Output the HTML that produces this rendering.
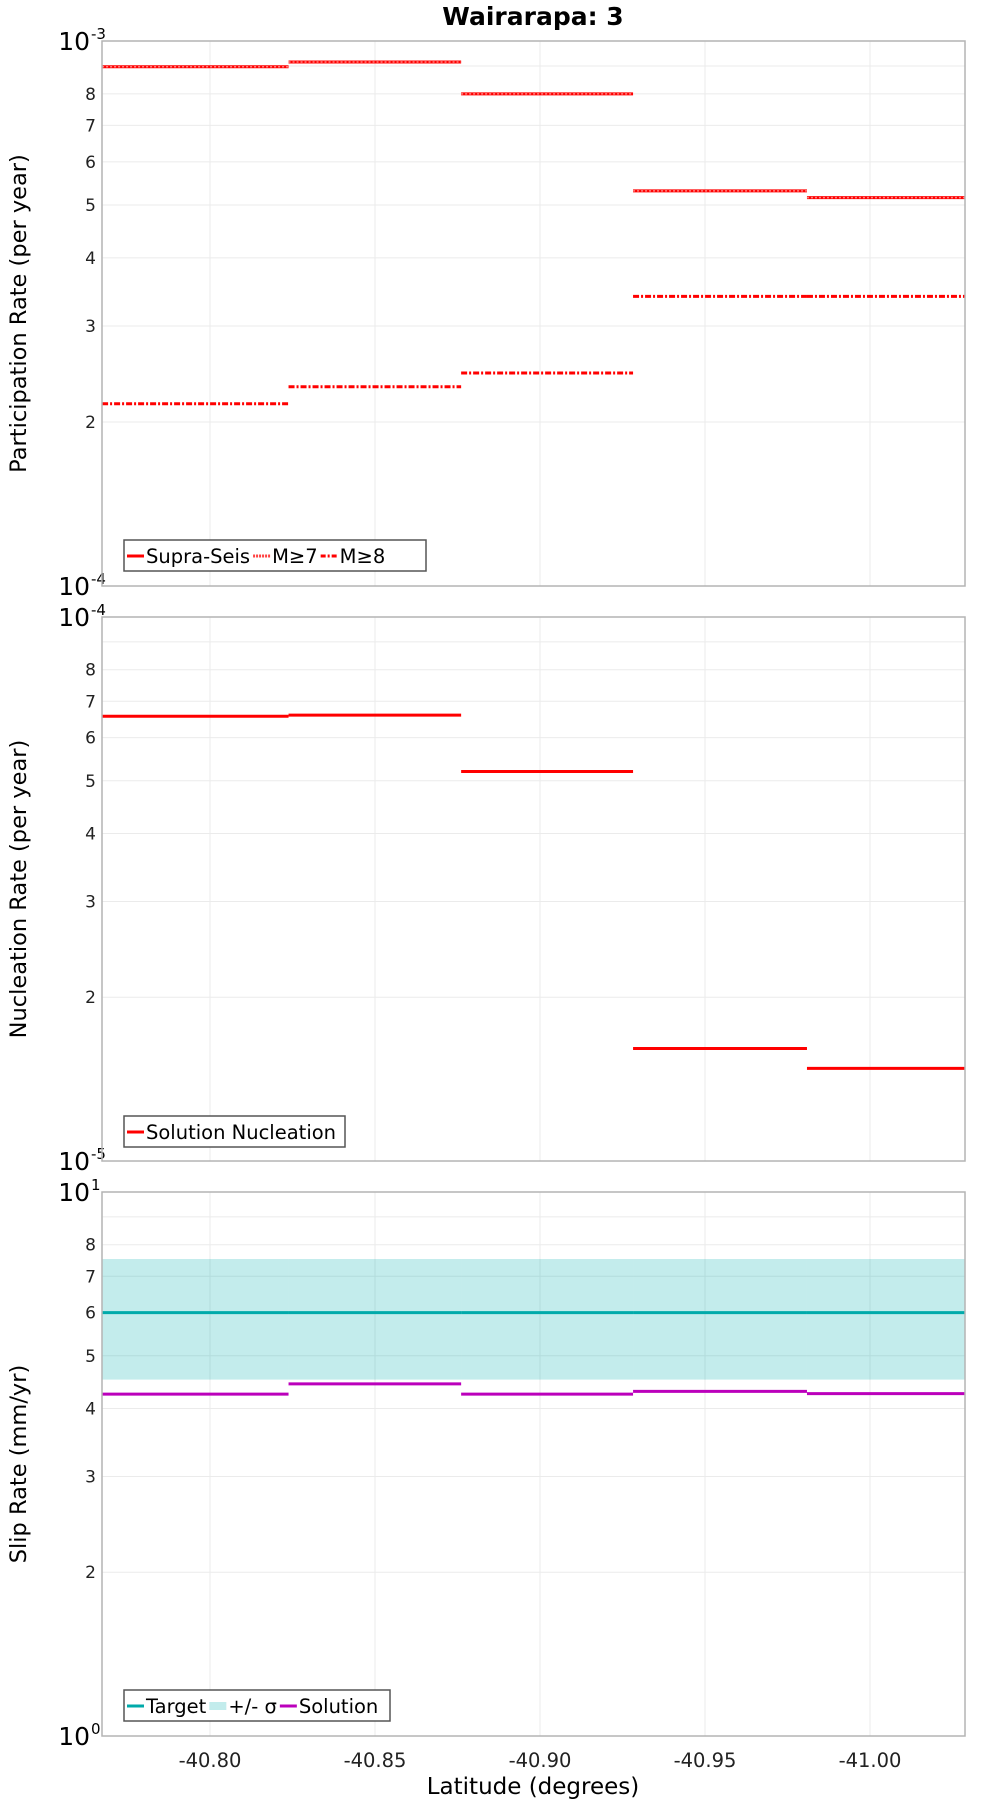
<!DOCTYPE html>
<html><head><meta charset="utf-8"><style>
html,body{margin:0;padding:0;background:#fff;}
svg{display:block;font-family:"DejaVu Sans","Liberation Sans",sans-serif;}
</style></head><body>
<svg id="chart" width="1000" height="1800" xmlns="http://www.w3.org/2000/svg">
<text x="533" y="25" text-anchor="middle" font-size="25" font-weight="bold">Wairarapa: 3</text>
</svg>
<script>
const segEdges = [-40.7673, -40.8238, -40.8761, -40.9282, -40.9809, -41.0288];
const xTicks = [-40.80, -40.85, -40.90, -40.95, -41.00];
const xTickLabels = ["-40.80", "-40.85", "-40.90", "-40.95", "-41.00"];
const supraSeis = [8.97e-4, 9.15e-4, 8.0e-4, 5.31e-4, 5.16e-4];
const m7 = [8.97e-4, 9.15e-4, 8.0e-4, 5.31e-4, 5.16e-4];
const m8 = [2.16e-4, 2.32e-4, 2.46e-4, 3.40e-4, 3.40e-4];
const nucleation = [6.57e-5, 6.6e-5, 5.2e-5, 1.61e-5, 1.48e-5];
const slipTarget = [6, 6, 6, 6, 6];
const slipLow = [4.52, 4.52, 4.52, 4.52, 4.52];
const slipHigh = [7.53, 7.53, 7.53, 7.53, 7.53];
const slipSolution = [4.25, 4.44, 4.25, 4.30, 4.26];
const minorLabels = ["2","3","4","5","6","7","8"];

const NS = "http://www.w3.org/2000/svg";
const svg = document.getElementById('chart');
const L = 102, R = 965;
function xs(lat){ return 210 + (-40.80 - lat) / 0.05 * 165; }
function mk(tag, attrs, parent){
  const e = document.createElementNS(NS, tag);
  for (const k in attrs) e.setAttribute(k, attrs[k]);
  (parent || svg).appendChild(e);
  return e;
}
const panels = [
  {top:41, bot:586, lo:-4, title:"Participation Rate (per year)", name:"participation-panel"},
  {top:617, bot:1161, lo:-5, title:"Nucleation Rate (per year)", name:"nucleation-panel"},
  {top:1192, bot:1736, lo:0, title:"Slip Rate (mm/yr)", name:"slip-rate-panel"}
];
panels.forEach((p, pi) => {
  const g = mk('g', {});
  
  
  p.ys = v => p.bot - (Math.log10(v) - p.lo) * (p.bot - p.top);
  xTicks.forEach(t => {
    const l = mk('line', {x1: xs(t), x2: xs(t), y1: p.top, y2: p.bot, stroke: '#ebebeb', 'stroke-width': 1}, g);
    
    
  });
  for (let m = 2; m <= 9; m++) {
    const y = p.ys(m * Math.pow(10, p.lo));
    const l = mk('line', {x1: L, x2: R, y1: y, y2: y, stroke: '#ebebeb', 'stroke-width': 1}, g);
    
    
    if (m <= 8) {
      const t = mk('text', {x: 96, y: y + 6, 'text-anchor': 'end', 'font-size': 17, fill: '#222'}, g);
      t.textContent = minorLabels[m - 2];
      
      
    }
  }
  [[p.lo + 1, p.top], [p.lo, p.bot]].forEach(([e, y]) => {
    const t = mk('text', {x: 90, y: y + 9, 'text-anchor': 'end', 'font-size': 25}, g);
    t.textContent = '10';
    
    
    const s = mk('text', {x: 91, y: y - 2, 'text-anchor': 'start', 'font-size': 15}, g);
    s.textContent = String(e);
    
    
  });
  const yt = mk('text', {x: 0, y: 0, 'text-anchor': 'middle', 'font-size': 22.5, transform: `translate(26 ${(p.top + p.bot) / 2}) rotate(-90)`}, g);
  yt.textContent = p.title;
  
  
  p.g = g;
});

function segs(p, vals, color, dash, w, name){
  vals.forEach((v, i) => {
    const y = p.ys(v);
    const a = {x1: xs(segEdges[i]), x2: xs(segEdges[i + 1]), y1: y, y2: y, stroke: color, 'stroke-width': w};
    if (dash) a['stroke-dasharray'] = dash;
    const l = mk('line', a, p.g);
    
    
  });
}
const P1 = panels[0], P2 = panels[1], P3 = panels[2];
segs(P1, supraSeis, '#ff0000', null, 3, 'supra-seis-segment');
segs(P1, m7, '#ff8080', '2 2', 1.5, 'm7-segment');
segs(P1, m8, '#ff0000', '6 2 2 2', 3, 'm8-segment');
segs(P2, nucleation, '#ff0000', null, 3, 'nucleation-segment');
slipLow.forEach((v, i) => {
  const yH = P3.ys(slipHigh[i]), yL = P3.ys(v);
  const r = mk('rect', {x: xs(segEdges[i]), y: yH, width: xs(segEdges[i + 1]) - xs(segEdges[i]), height: yL - yH, fill: '#00b0b0', 'fill-opacity': 0.235}, P3.g);
  
  
});
segs(P3, slipTarget, '#00aaaa', null, 3, 'target-segment');
segs(P3, slipSolution, '#bb00bb', null, 3, 'solution-segment');

panels.forEach(p => {
  const r = mk('rect', {x: L, y: p.top, width: R - L, height: p.bot - p.top, fill: 'none', stroke: '#b4b4b4', 'stroke-width': 1.5}, p.g);
  
  
});

function legend(p, x, y, w, items, name){
  const g = mk('g', {}, p.g);
  
  
  const b = mk('rect', {x: x, y: y, width: w, height: 31, fill: '#fff', stroke: '#555', 'stroke-width': 1.5}, g);
  
  
  let cx = x + 3;
  items.forEach(it => {
    const a = {x1: cx, x2: cx + 17, y1: y + 16, y2: y + 16, stroke: it.c, 'stroke-width': it.sw || 3};
    if (it.d) a['stroke-dasharray'] = it.d;
    const l = mk('line', a, g);
    
    
    const t = mk('text', {x: cx + 19, y: y + 23, 'font-size': 19.5}, g);
    t.textContent = it.t;
    
    
    cx += 19 + t.getComputedTextLength() + 3;
  });
}
legend(P1, 124, 540, 302, [{t:'Supra-Seis', c:'#ff0000'}, {t:'M≥7', c:'#ff4040', d:'2 1'}, {t:'M≥8', c:'#ff0000', d:'5 2 2 2'}], 'participation-legend');
legend(P2, 124, 1116, 221, [{t:'Solution Nucleation', c:'#ff0000'}], 'nucleation-legend');
legend(P3, 124, 1690, 266, [{t:'Target', c:'#00aaaa'}, {t:'+/- σ', c:'#c2ecec', sw:8}, {t:'Solution', c:'#bb00bb'}], 'slip-legend');

xTicks.forEach((t, i) => {
  const e = mk('text', {x: xs(t), y: 1767, 'text-anchor': 'middle', 'font-size': 19.5, fill: '#222'});
  e.textContent = xTickLabels[i];
  
  
});
const xt = mk('text', {x: 533, y: 1794, 'text-anchor': 'middle', 'font-size': 23});
xt.textContent = 'Latitude (degrees)';


</script>
</body></html>
